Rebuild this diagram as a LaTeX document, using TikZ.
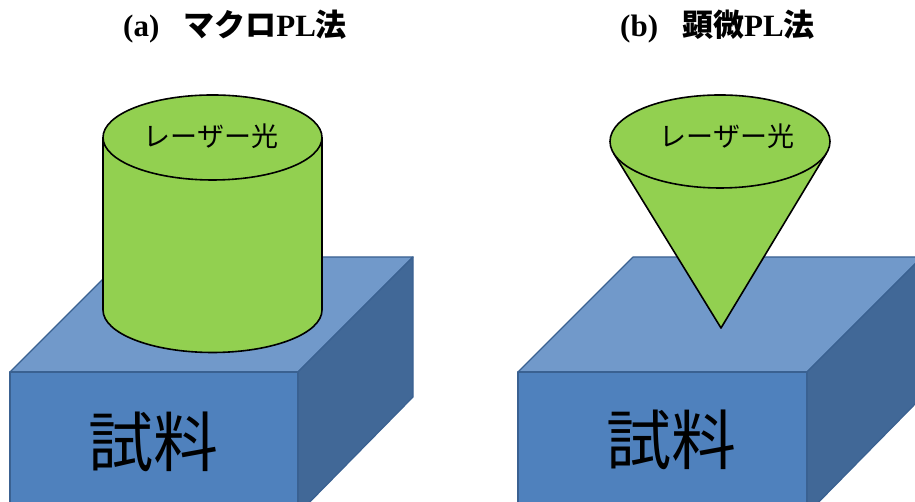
\documentclass[tikz,border=0pt]{standalone}
\usepackage{fontspec}
\setmainfont{Liberation Serif}
\newfontfamily\jp{Noto Sans CJK JP}
\usetikzlibrary{calc}
\definecolor{frontblue}{HTML}{4F81BD}
\definecolor{topblue}{HTML}{7199CA}
\definecolor{sideblue}{HTML}{416897}
\definecolor{edgeblue}{HTML}{3A6191}
\definecolor{laser}{HTML}{92D050}
\tikzset{
  face/.style={draw=edgeblue, line width=1.2pt, line join=round},
  beam/.style={draw=black, fill=laser, line width=1.6pt, line join=round},
  title/.style={anchor=base west, inner sep=0pt, font=\fontsize{31}{36}\selectfont\bfseries},
  beamlabel/.style={inner sep=0pt, font=\jp\fontsize{27}{31}\selectfont},
  samplelabel/.style={inner sep=0pt, font=\jp\fontsize{65}{70}\selectfont}
}
\begin{document}
\begin{tikzpicture}[x=1pt, y=1pt]
\useasboundingbox (0,0) rectangle (915,502);
\clip (0,0) rectangle (915,502);

% ---- (a) sample block ----
\fill[frontblue] (10,-12) rectangle (298,130);
\draw[face, fill=topblue] (10,130) -- (125,245) -- (413,245) -- (298,130) -- cycle;
\draw[face, fill=sideblue] (298,130) -- (413,245) -- (413,105) -- (298,-12) -- cycle;
\draw[face] (10,-12) rectangle (298,130);
\node[samplelabel] (sampleA) at (153,60) {試料};

% ---- (a) cylindrical beam ----
\draw[beam] (103,364.5) -- (103,192)
  arc[start angle=180, end angle=360, x radius=109.5pt, y radius=42.5pt]
  -- (322,364.5);
\draw[beam] (212.5,364.5) ellipse[x radius=109.5pt, y radius=42.5pt];
\node[beamlabel] (laserA) at (211,366) {レーザー光};

% ---- (b) sample block ----
\fill[frontblue] (518,-12) rectangle (807,130);
\draw[face, fill=topblue] (518,130) -- (633,245) -- (922,245) -- (807,130) -- cycle;
\draw[face, fill=sideblue] (807,130) -- (922,245) -- (922,105) -- (807,-12) -- cycle;
\draw[face] (518,-12) rectangle (807,130);
\node[samplelabel] (sampleB) at (671,62) {試料};

% ---- (b) conical beam ----
\coordinate (apex) at (721,174);
\coordinate (tl) at (613.5,348.9);
\coordinate (tr) at (826.5,348.9);
\fill[laser] (tl) -- (apex) -- (tr) -- cycle;
\draw[black, line width=1.6pt, line join=round] (tl) -- (apex) -- (tr);
\draw[beam] (720,360.5) ellipse[x radius=110pt, y radius=46.5pt];
\node[beamlabel] (laserB) at (727,366) {レーザー光};

% ---- titles ----
\node[title] (titleA) at (123,465) {(a)\hspace{24pt}{\jp マクロ}PL{\jp 法}};
\node[title] (titleB) at (620,465) {(b)\hspace{24pt}{\jp 顕微}PL{\jp 法}};
\end{tikzpicture}
\end{document}
